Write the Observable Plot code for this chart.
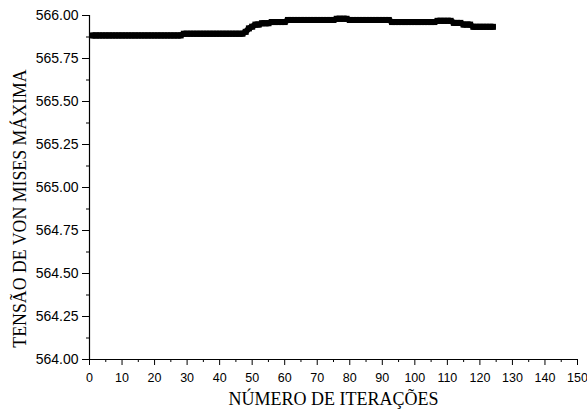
<!DOCTYPE html>
<html>
<head>
<meta charset="utf-8">
<script src="https://cdn.jsdelivr.net/npm/d3@7"></script>
<script src="https://cdn.jsdelivr.net/npm/@observablehq/plot@0.6"></script>
<style>
html,body{margin:0;padding:0;background:#fff;}
</style>
</head>
<body>
<div id="chart"></div>
<script>
const iterations = [
  1,2,3,4,5,6,7,8,9,10,11,12,13,14,15,16,17,18,19,20,21,22,23,24,25,26,27,28,29,
  30,31,32,33,34,35,36,37,38,39,40,41,42,43,44,45,46,47,48,49,50,51,52,53,54,55,56,57,58,59,
  60,61,62,63,64,65,66,67,68,69,70,71,72,73,74,75,76,77,78,79,80,81,82,83,84,85,86,87,88,89,
  90,91,92,93,94,95,96,97,98,99,100,101,102,103,104,105,106,107,108,109,110,111,112,113,114,115,116,117,118,119,
  120,121,122,123,124
];
const tensao = [
  565.884,565.884,565.884,565.884,565.884,565.884,565.884,565.884,565.884,
  565.884,565.884,565.884,565.884,565.884,565.884,565.884,565.884,565.884,565.884,
  565.884,565.884,565.884,565.884,565.884,565.884,565.884,565.884,565.884,565.894,
  565.894,565.894,565.894,565.894,565.894,565.894,565.894,565.894,565.894,565.894,
  565.894,565.894,565.894,565.894,565.894,565.894,565.894,565.894,565.905,565.925,
  565.935,565.947,565.947,565.955,565.955,565.955,565.962,565.962,565.962,565.962,
  565.962,565.974,565.974,565.974,565.974,565.974,565.974,565.974,565.974,565.974,
  565.974,565.974,565.974,565.974,565.974,565.974,565.981,565.981,565.981,565.981,
  565.974,565.974,565.974,565.974,565.974,565.974,565.974,565.974,565.974,565.974,
  565.974,565.974,565.974,565.962,565.962,565.962,565.962,565.962,565.962,565.962,
  565.962,565.962,565.962,565.962,565.962,565.962,565.962,565.969,565.969,565.969,
  565.969,565.969,565.957,565.957,565.957,565.947,565.947,565.947,565.934,565.934,
  565.934,565.934,565.934,565.934,565.934
];
const xTicks = [0,10,20,30,40,50,60,70,80,90,100,110,120,130,140,150];
const xMinorTicks = [5,15,25,35,45,55,65,75,85,95,105,115,125,135,145];
const yTicks = [564,564.25,564.5,564.75,565,565.25,565.5,565.75,566];
const yMinorTicks = [564.125,564.375,564.625,564.875,565.125,565.375,565.625,565.875];
const xTitle = "NÚMERO DE ITERAÇÕES";
const yTitle = "TENSÃO DE VON MISES MÁXIMA";

const data = iterations.map((it, i) => ({it, v: tensao[i]}));
const sans = "'Liberation Sans', Arial, sans-serif";
const serif = "'Liberation Serif', 'Times New Roman', serif";

const chart = Plot.plot({
  width: 587,
  height: 414,
  marginLeft: 89,
  marginRight: 10,
  marginTop: 15,
  marginBottom: 55,
  style: {fontFamily: sans, fontSize: "12px", color: "#000", background: "#fff"},
  x: {domain: [0, 150]},
  y: {domain: [564, 566]},
  marks: [
    Plot.axisX({ticks: xTicks, tickSize: 6, tickPadding: 8, tickFormat: d3.format("d"), label: null, fontSize: 12.5}),
    Plot.axisX({ticks: xMinorTicks, tickSize: 3, text: null, label: null}),
    Plot.axisY({ticks: yTicks, tickSize: 7, tickPadding: 4, tickFormat: d3.format(".2f"), label: null, fontSize: 14}),
    Plot.axisY({ticks: yMinorTicks, tickSize: 3, text: null, label: null}),
    Plot.ruleX([0], {stroke: "#000", strokeWidth: 1.2}),
    Plot.ruleY([564], {stroke: "#000", strokeWidth: 1.2}),
    Plot.text([xTitle], {frameAnchor: "bottom", textAnchor: "middle", dy: 45, fontFamily: serif, fontSize: 18, fill: "#000"}),
    Plot.text([yTitle], {frameAnchor: "left", textAnchor: "middle", dx: -69, dy: 21, rotate: -90, fontFamily: serif, fontSize: 17.8, fill: "#000"}),
    Plot.line(data, {x: "it", y: "v", stroke: "#000", strokeWidth: 6}),
    Plot.dot(data, {x: "it", y: "v", symbol: "square", r: 3.4, fill: "#000", stroke: "none"})
  ]
});
document.getElementById("chart").appendChild(chart);
</script>
</body>
</html>
